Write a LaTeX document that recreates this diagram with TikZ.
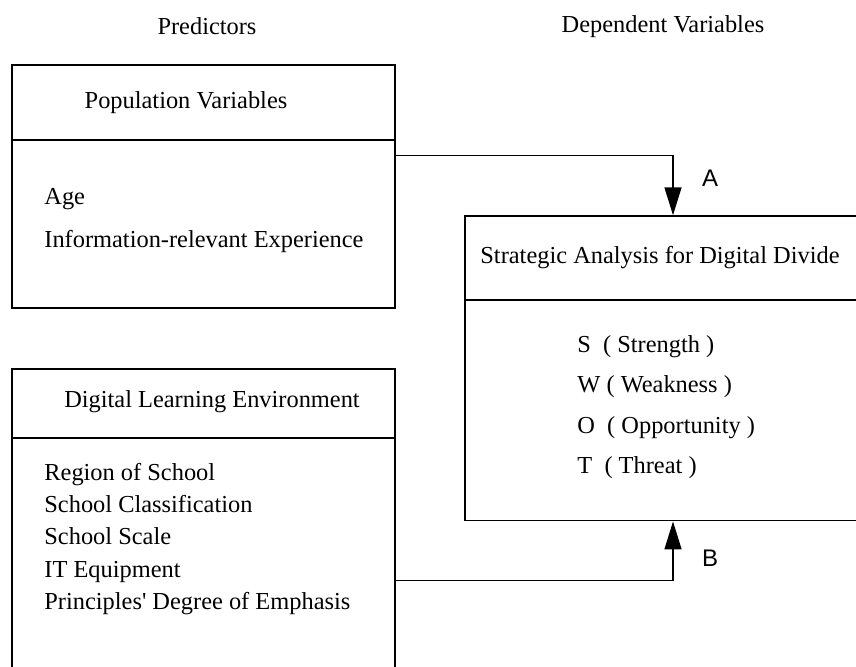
\documentclass[tikz,border=0pt]{standalone}
\usepackage{fontspec}
\setmainfont{Liberation Serif}[Ligatures=TeXOff]
\newfontfamily\labfont{Liberation Sans}
\usetikzlibrary{arrows.meta,positioning}

\tikzset{
  box/.style={rectangle, draw, line width=0.75pt, inner sep=0pt},
  divider/.style={line width=0.75pt},
  txt/.style={inner sep=0pt, font=\fontsize{12.2}{21.5}\selectfont},
  conn/.style={line width=0.75pt, -{Triangle[length=14pt, width=8.5pt]}},
  lab/.style={inner sep=0pt, font=\labfont\fontsize{12}{14}\selectfont}
}

\begin{document}
\begin{tikzpicture}[x=0.5pt, y=-0.5pt]
    \useasboundingbox (0,0) rectangle (856,666);

    \node[txt] (pred) at (207,26) {Predictors};
    \node[txt] (dep) at (663,27) {Dependent Variables};

    % left boxes
    \node[box, minimum width=191.5pt, minimum height=121.5pt] (popbox) at (203.5,186.5) {};
    \draw[divider] (popbox.west |- 0,140) -- (popbox.east |- 0,140);
    \node[txt] (pophead) at (186,102.5) {Population Variables};
    \node[txt, align=left, anchor=west] (popbody) at (44,221) {Age\\Information-relevant Experience};

    \node[box, minimum width=191.5pt, minimum height=155.5pt] (digibox) at (203.5,524.5) {};
    \draw[divider] (digibox.west |- 0,438) -- (digibox.east |- 0,438);
    \node[txt] (digihead) at (212,402) {Digital Learning Environment};
    \node[txt, align=left, anchor=west, font=\fontsize{12.2}{16.2}\selectfont] (digibody) at (44,539) {Region of School\\School Classification\\School Scale\\IT Equipment\\Principles' Degree of Emphasis};

    % right box
    \node[box, minimum width=208pt, minimum height=152.35pt] (strat) at (673,368.35) {};
    \draw[divider] (strat.west |- 0,300) -- (strat.east |- 0,300);
    \node[txt] (strathead) at (660,258) {Strategic Analysis for Digital Divide};
    \node[txt, align=left, anchor=west, font=\fontsize{12.2}{20.25}\selectfont] (swot) at (577,407) {S\ \ ( Strength )\\W ( Weakness )\\O\ \ ( Opportunity )\\T\ \ ( Threat )};

    % connectors
    \draw[conn] (popbox.east |- 0,155.6) -| (strat.north);
    \draw[conn] (digibox.east |- 0,580.7) -| (strat.south);
    \node[lab] (labA) at (710,178) {A};
    \node[lab] (labB) at (710,558) {B};
\end{tikzpicture}
\end{document}
